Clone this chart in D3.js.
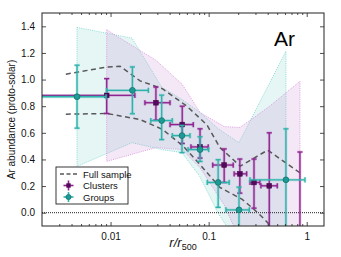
<!DOCTYPE html>
<html><head><meta charset="utf-8">
<script src="https://cdn.jsdelivr.net/npm/d3@7"></script>
<style>
body{margin:0;background:#fff;}
svg{display:block;}
text{font-family:"Liberation Sans",Arial,sans-serif;}
</style></head>
<body>
<svg id="c" width="341" height="257"></svg>
<script>
// ---- data ----
const groupR     = [0.00455, 0.0167, 0.0332, 0.0535, 0.0817, 0.125, 0.204, 0.614];
const groupAr    = [0.871, 0.919, 0.692, 0.579, 0.474, 0.227, 0.021, 0.247];
const groupArLo  = [0.635, 0.743, 0.549, 0.451, 0.385, 0.04, -0.15, -0.13];
const groupArHi  = [1.108, 1.095, 0.883, 0.655, 0.57, 0.398, 0.192, 0.63];
const groupRLo   = [0.001, 0.0091, 0.0257, 0.0426, 0.0617, 0.0968, 0.150, 0.264];
const groupRHi   = [0.009, 0.0243, 0.0426, 0.0646, 0.100, 0.162, 0.26, 0.96];

const clusterR    = [0.00913, 0.029, 0.0538, 0.0817, 0.144, 0.208, 0.29, 0.415, 0.853];
const clusterAr   = [0.881, 0.826, 0.662, 0.494, 0.358, 0.292, 0.227, 0.202, -0.16];
const clusterArLo = [0.745, 0.695, 0.52, 0.41, 0.227, 0.147, 0.034, -0.2, -0.78];
const clusterArHi = [1.007, 0.944, 0.80, 0.63, 0.479, 0.403, 0.403, 0.6, 0.456];
const clusterRLo  = [0.001, 0.0224, 0.0404, 0.066, 0.11, 0.182, 0.264, 0.341, 0.6];
const clusterRHi  = [0.0177, 0.0404, 0.0697, 0.099, 0.178, 0.244, 0.333, 0.501, 1.2];

const groupBandR  = [0.00455, 0.01654, 0.0334, 0.0535, 0.0816, 0.1245, 0.2037, 0.614];
const groupBandHi = [1.392, 1.311, 0.94, 0.851, 0.753, 0.632, 0.526, 1.213];
const groupBandLo = [0.348, 0.526, 0.474, 0.451, 0.27, -0.002, -0.243, -0.43];

const clusterBandR  = [0.00913, 0.029, 0.0538, 0.0817, 0.144, 0.208, 0.29, 0.415, 0.853];
const clusterBandHi = [1.374, 1.145, 0.964, 0.753, 0.647, 0.64, 0.715, 0.798, 0.987];
const clusterBandLo = [0.385, 0.489, 0.474, 0.338, 0.058, -0.206, -0.3, -0.38, -0.43];

const fullUpR  = [0.0035, 0.0092, 0.0125, 0.020, 0.034, 0.060, 0.096, 0.13, 0.21, 0.40, 0.85];
const fullUpAr = [1.04, 1.095, 1.10, 0.99, 0.93, 0.80, 0.66, 0.49, 0.35, 0.47, 0.30];
const fullLoR  = [0.0035, 0.0092, 0.020, 0.034, 0.055, 0.082, 0.13, 0.22, 0.28, 0.36, 0.43, 0.6];
const fullLoAr = [0.74, 0.745, 0.70, 0.625, 0.50, 0.36, 0.19, 0.10, 0.035, -0.04, -0.10, -0.2];

const xMajorTicks = [0.01, 0.1, 1];
const xTickLabels = ["0.01", "0.1", "1"];
const yTicks = [0.0, 0.2, 0.4, 0.6, 0.8, 1.0, 1.2, 1.4];
const legendLabels = ["Full sample", "Clusters", "Groups"];

// ---- layout ----
const L = 42, R = 324, T = 13, B = 226;
const svg = d3.select("#c");
const x = d3.scaleLog().domain([0.002, 1.5]).range([L, R]);
const y = d3.scaleLinear().domain([-0.1, 1.5]).range([B, T]);

const cTeal = "#2db3ab", cTealDark = "#12736e", cTealBand = "rgb(150,220,215)", cTealEdge = "#6fd3cc";
const cPurp = "#8f2391", cPurpDark = "#55095a", cPurpBand = "rgb(200,140,210)", cPurpEdge = "#d88bdc";

svg.append("defs").append("clipPath").attr("id", "clip")
  .append("rect").attr("x", L).attr("y", T).attr("width", R - L).attr("height", B - T);

const plot = svg.append("g").attr("clip-path", "url(#clip)");

function band(rs, lo, hi, fill, op, edge) {
  const pts = rs.map((r, i) => ({r, lo: lo[i], hi: hi[i]}));
  const area = d3.area().x(d => x(d.r)).y0(d => y(d.lo)).y1(d => y(d.hi));
  plot.append("path").attr("d", area(pts)).attr("fill", fill).attr("fill-opacity", op)
    .attr("stroke", edge).attr("stroke-width", 0.8).attr("stroke-dasharray", "1,1.2");
}
band(groupBandR, groupBandLo, groupBandHi, cTealBand, 0.25, cTealEdge);
band(clusterBandR, clusterBandLo, clusterBandHi, cPurpBand, 0.2, cPurpEdge);

// zero line
plot.append("line").attr("x1", L).attr("x2", R).attr("y1", y(0)).attr("y2", y(0))
  .attr("stroke", "#222").attr("stroke-width", 1).attr("stroke-dasharray", "1,1");

// dashed full sample lines
const ln = d3.line().x(d => x(d[0])).y(d => y(d[1]));
[[fullUpR, fullUpAr], [fullLoR, fullLoAr]].forEach(([rs, as]) => {
  plot.append("path").attr("d", ln(rs.map((r, i) => [r, as[i]])))
    .attr("fill", "none").attr("stroke", "#585858").attr("stroke-width", 1.5)
    .attr("stroke-dasharray", "5,3.5");
});

function errs(rs, ar, arLo, arHi, rLo, rHi, col, dark, marker) {
  const g = plot.append("g");
  const cap = 2.6;
  rs.forEach((r, i) => {
    const cx = x(r), cy = y(ar[i]);
    const segs = [
      [x(rLo[i]), cy, x(rHi[i]), cy],
      [cx, y(arLo[i]), cx, y(arHi[i])],
      [cx - cap, y(arLo[i]), cx + cap, y(arLo[i])],
      [cx - cap, y(arHi[i]), cx + cap, y(arHi[i])],
      [x(rLo[i]), cy - cap, x(rLo[i]), cy + cap],
      [x(rHi[i]), cy - cap, x(rHi[i]), cy + cap]
    ];
    segs.forEach(s => {
      g.append("line").attr("x1", s[0]).attr("y1", s[1]).attr("x2", s[2]).attr("y2", s[3])
        .attr("stroke", col).attr("stroke-opacity", 0.25).attr("stroke-width", 2.8);
      g.append("line").attr("x1", s[0]).attr("y1", s[1]).attr("x2", s[2]).attr("y2", s[3])
        .attr("stroke", col).attr("stroke-width", 1.3);
    });
    if (marker === "square") {
      g.append("rect").attr("x", cx - 2.4).attr("y", cy - 2.4).attr("width", 4.8).attr("height", 4.8)
        .attr("fill", dark).attr("stroke", "#3a0340").attr("stroke-width", 0.5);
    } else {
      g.append("circle").attr("cx", cx).attr("cy", cy).attr("r", 2.9)
        .attr("fill", "#1c9a93").attr("stroke", dark).attr("stroke-width", 0.8);
    }
  });
}
errs(clusterR, clusterAr, clusterArLo, clusterArHi, clusterRLo, clusterRHi, cPurp, cPurpDark, "square");
errs(groupR, groupAr, groupArLo, groupArHi, groupRLo, groupRHi, cTeal, cTealDark, "circle");

// ---- axes ----
const minor = [];
[0.001, 0.01, 0.1, 1].forEach(d => { for (let k = 2; k <= 9; k++) { const v = d * k; if (v > 0.002 && v < 1.5) minor.push(v); } });

function styleAxis(g) {
  g.select(".domain").remove();
  g.selectAll("line").attr("stroke", "#222").attr("stroke-width", 0.8);
  g.selectAll("text").attr("font-size", 10).attr("fill", "#111").attr("font-family", "Liberation Sans, Arial, sans-serif");
}
const xb = svg.append("g").attr("transform", `translate(0,${B})`)
  .call(d3.axisBottom(x).tickValues(xMajorTicks).tickFormat((d, i) => xTickLabels[i]).tickSize(-4).tickPadding(7));
styleAxis(xb);
const xbm = svg.append("g").attr("transform", `translate(0,${B})`)
  .call(d3.axisBottom(x).tickValues(minor).tickFormat("").tickSize(-2));
styleAxis(xbm);
const xt = svg.append("g").attr("transform", `translate(0,${T})`)
  .call(d3.axisTop(x).tickValues(xMajorTicks).tickFormat("").tickSize(-4));
styleAxis(xt);
const xtm = svg.append("g").attr("transform", `translate(0,${T})`)
  .call(d3.axisTop(x).tickValues(minor).tickFormat("").tickSize(-2));
styleAxis(xtm);
const yl = svg.append("g").attr("transform", `translate(${L},0)`)
  .call(d3.axisLeft(y).tickValues(yTicks).tickFormat(d3.format(".1f")).tickSize(-4).tickPadding(7));
styleAxis(yl);
const yr = svg.append("g").attr("transform", `translate(${R},0)`)
  .call(d3.axisRight(y).tickValues(yTicks).tickFormat("").tickSize(-4));
styleAxis(yr);

svg.append("rect").attr("x", L).attr("y", T).attr("width", R - L).attr("height", B - T)
  .attr("fill", "none").attr("stroke", "#222").attr("stroke-width", 1);

// labels
svg.append("text").attr("transform", `translate(15,${(T + B) / 2}) rotate(-90)`)
  .attr("text-anchor", "middle").attr("font-size", 10).attr("fill", "#111")
  .text("Ar abundance (proto-solar)");

const xl = svg.append("text").attr("x", 183).attr("y", 247).attr("text-anchor", "middle")
  .attr("font-family", "Liberation Serif, serif").attr("font-style", "italic").attr("font-size", 13).attr("fill", "#111");
xl.append("tspan").text("r/r");
xl.append("tspan").attr("font-size", 9).attr("font-style", "normal").attr("dy", 3).text("500");

svg.append("text").attr("x", 274).attr("y", 46).attr("font-size", 21).attr("fill", "#000").text("Ar");

// legend
const lg = svg.append("g");
lg.append("rect").attr("x", 56).attr("y", 167).attr("width", 72).attr("height", 37)
  .attr("fill", "#fff").attr("stroke", "#222").attr("stroke-width", 0.9);
const ly = [174, 185.5, 197];
lg.append("line").attr("x1", 60).attr("x2", 78).attr("y1", ly[0]).attr("y2", ly[0])
  .attr("stroke", "#585858").attr("stroke-width", 1.4).attr("stroke-dasharray", "4,2.5");
[[cPurp, cPurpDark, "square"], [cTeal, cTealDark, "circle"]].forEach(([c, d, m], i) => {
  const yy = ly[i + 1], cx = 68.5;
  lg.append("line").attr("x1", cx - 5).attr("x2", cx + 5).attr("y1", yy).attr("y2", yy).attr("stroke", c).attr("stroke-width", 1.6);
  lg.append("line").attr("x1", cx).attr("x2", cx).attr("y1", yy - 5).attr("y2", yy + 5).attr("stroke", c).attr("stroke-width", 1.6);
  if (m === "square") lg.append("rect").attr("x", cx - 2.2).attr("y", yy - 2.2).attr("width", 4.4).attr("height", 4.4).attr("fill", d);
  else lg.append("circle").attr("cx", cx).attr("cy", yy).attr("r", 2.6).attr("fill", "#1c9a93").attr("stroke", d).attr("stroke-width", 0.7);
});
legendLabels.forEach((t, i) => {
  lg.append("text").attr("x", 83).attr("y", ly[i] + 3.5).attr("font-size", 9.5).attr("fill", "#111").text(t);
});
</script>
</body></html>
